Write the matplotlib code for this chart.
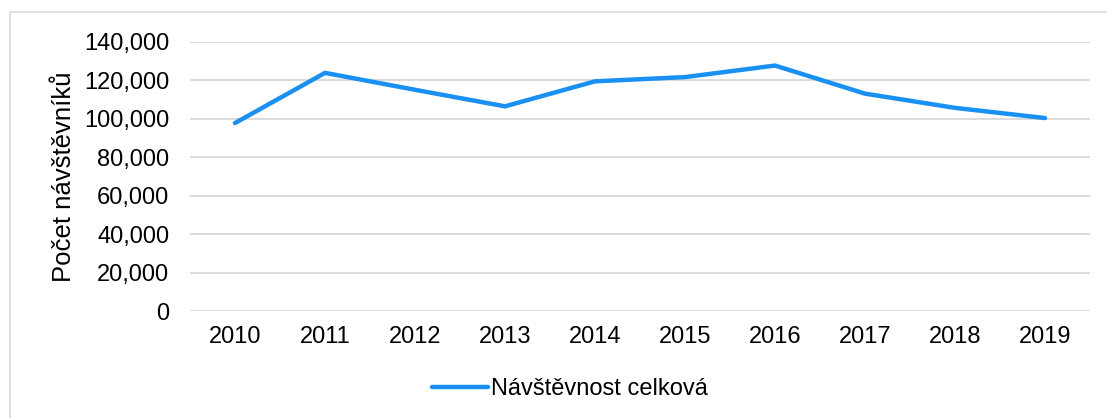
import matplotlib
matplotlib.use("Agg")
import matplotlib.pyplot as plt
from matplotlib.patches import Rectangle
from matplotlib.ticker import FuncFormatter

plt.rcParams['font.family'] = ['Liberation Sans', 'DejaVu Sans']

years = ["2010", "2011", "2012", "2013", "2014", "2015", "2016", "2017", "2018", "2019"]
visitors = [97700, 123800, 115000, 106400, 119400, 121600, 127600, 113000, 105600, 100300]
series_name = "Návštěvnost celková"
y_label = "Počet návštěvníků"

fig = plt.figure(figsize=(11.07, 4.18), dpi=100)
ax = fig.add_axes([190 / 1107, 107 / 418, 900 / 1107, 269.3 / 418])

# light frame around the chart (only left and top are visible in the crop)
fig.patches.append(Rectangle((10 / 1107, -0.1), 1.2, 1 - 12 / 418 + 0.1,
                             transform=fig.transFigure, fill=False,
                             edgecolor="#D9D9D9", linewidth=1.2))

x = range(len(years))
ax.plot(x, visitors, color="#1A90F2", linewidth=3.2, solid_capstyle="round",
        solid_joinstyle="miter", label=series_name, zorder=3)

ax.set_xlim(-0.5, len(years) - 0.5)
ax.set_ylim(0, 140000)
ax.set_yticks(range(0, 140001, 20000))
ax.yaxis.set_major_formatter(FuncFormatter(lambda v, p: f"{int(v):,}"))
ax.set_xticks(list(x))
ax.set_xticklabels(years)
ax.grid(axis="y", color="#D9D9D9", linewidth=1.3)
ax.set_axisbelow(True)
for s in ax.spines.values():
    s.set_visible(False)
ax.tick_params(axis="y", length=0, pad=15, labelsize=17)
ax.tick_params(axis="x", length=0, pad=11, labelsize=17)
ax.set_ylabel(y_label, fontsize=18.5, labelpad=6)

fig.legend(loc="center", bbox_to_anchor=(570 / 1107, 1 - 389 / 418), frameon=False,
           fontsize=17, handlelength=2.35, handletextpad=0.15)

fig.savefig("out.png", dpi=100)
